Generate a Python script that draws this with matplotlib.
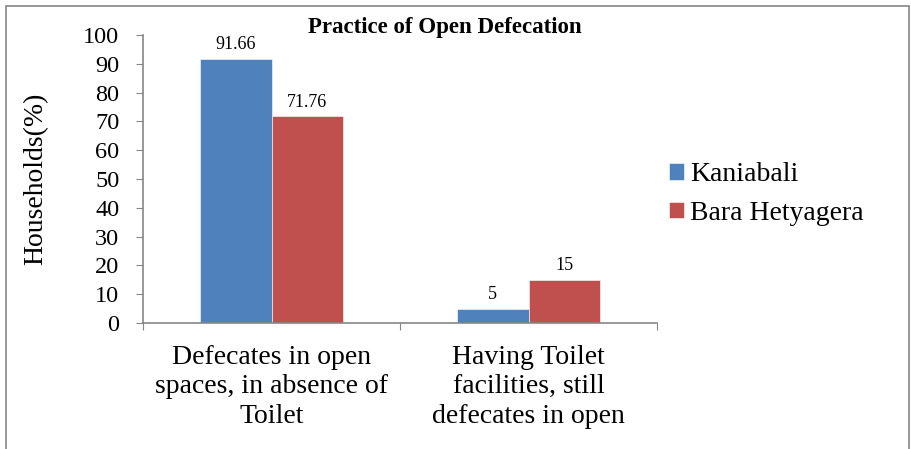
import numpy as np
import matplotlib.pyplot as plt
from matplotlib.patches import Rectangle

categories = ["Defecates in open\nspaces, in absence of\nToilet",
              "Having Toilet\nfacilities, still\ndefecates in open"]
kaniabali = [91.66, 5]
bara_hetyagera = [71.76, 15]
labels_k = ["91.66", "5"]
labels_b = ["71.76", "15"]

plt.rcParams['font.family'] = ['Liberation Serif', 'DejaVu Serif']

fig = plt.figure(figsize=(9.11, 4.49), dpi=100)
ax = fig.add_axes([143/911, 1 - 323/449, 514/911, 288/449])

x = np.arange(len(categories)) + 0.5
w = 0.28
blue = '#4f81bd'
red = '#c0504d'
bk = ax.bar(x - w/2, kaniabali, w, color=blue, edgecolor='white', linewidth=0.4, label="Kaniabali")
bb = ax.bar(x + w/2, bara_hetyagera, w, color=red, edgecolor='white', linewidth=0.4, label="Bara Hetyagera")
ax.bar_label(bk, labels=labels_k, padding=4, fontsize=13)
ax.bar_label(bb, labels=labels_b, padding=4, fontsize=13)

ax.set_xlim(0, 2)
ax.set_ylim(0, 100)
ax.set_yticks(range(0, 101, 10))
ax.set_xticks([0, 1, 2])
ax.set_xticklabels([])
ax.set_xticks(x, minor=True)
ax.set_xticklabels(categories, minor=True, fontsize=20, linespacing=1.22)
ax.tick_params(axis='x', which='minor', length=0, pad=16)
ax.tick_params(axis='x', which='major', length=5, color='#868686', direction='out')
ax.tick_params(axis='y', length=5, color='#868686', direction='out', labelsize=17.5, pad=12)

for s in ['top', 'right']:
    ax.spines[s].set_visible(False)
for s in ['left', 'bottom']:
    ax.spines[s].set_color('#868686')
    ax.spines[s].set_linewidth(1.2)

ax.set_ylabel("Households(%)", fontsize=20)
ax.yaxis.set_label_coords(-0.185, 0.5)

fig.text(445/911, 1 - 28/449, "Practice of Open Defecation", ha='center', va='center',
         fontsize=16.5, fontweight='bold')

ax.legend(loc='center left', bbox_to_anchor=(669/911, 1 - 194/449), bbox_transform=fig.transFigure,
          frameon=False, fontsize=20, handlelength=0.55, handleheight=0.55,
          handletextpad=0.2, labelspacing=0.5, borderaxespad=0, borderpad=0)

fig.patches.append(Rectangle((6/911, -0.05), 903/911, 1 - 6/449 + 0.05, transform=fig.transFigure,
                             fill=False, edgecolor='#868686', linewidth=1.2))

fig.savefig("out.png", dpi=100)
